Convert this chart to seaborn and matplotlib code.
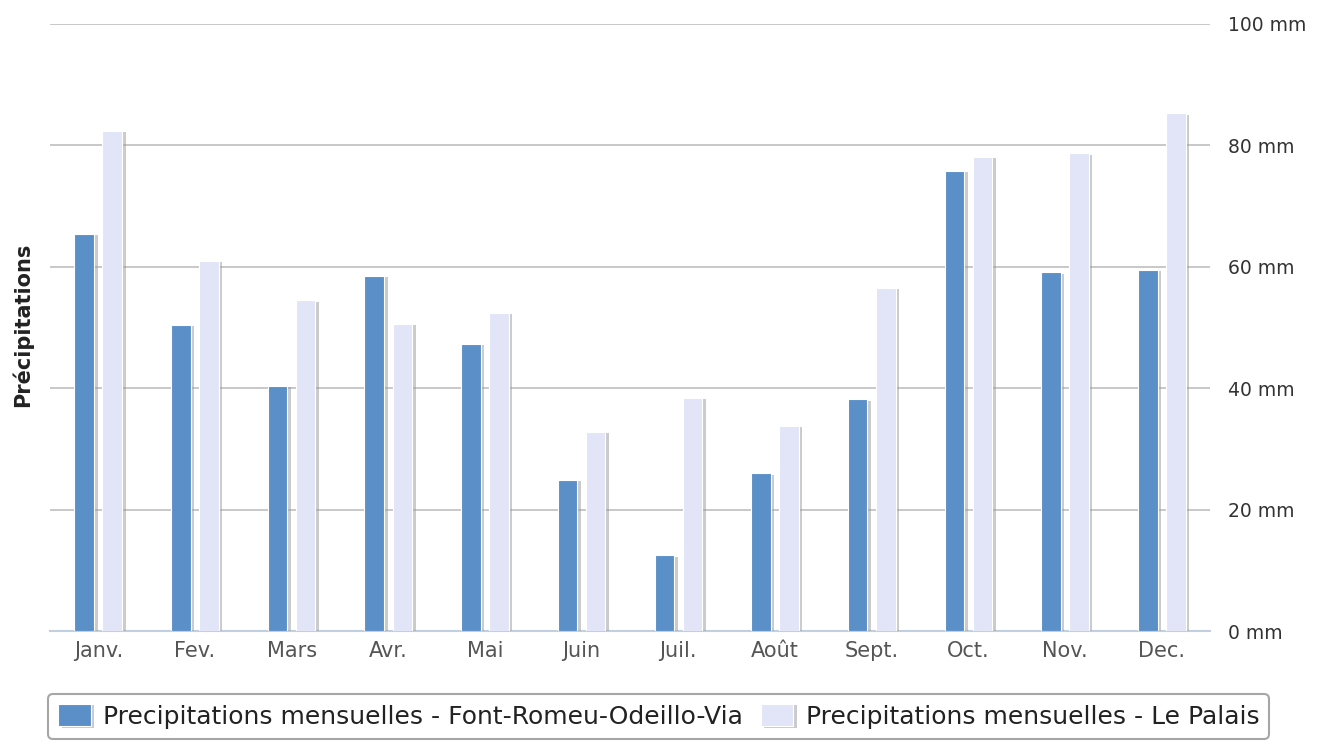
import pandas as pd
import matplotlib.pyplot as plt
import matplotlib.patheffects as pe
from matplotlib.ticker import FixedLocator
import seaborn as sns

mois = ['Janv.', 'Fev.', 'Mars', 'Avr.', 'Mai', 'Juin',
        'Juil.', 'Août', 'Sept.', 'Oct.', 'Nov.', 'Dec.']
font_romeu = [65.4, 50.4, 40.4, 58.5, 47.3, 24.9, 12.5, 26.0, 38.2, 75.8, 59.1, 59.5]
le_palais = [82.4, 61.0, 54.5, 50.6, 52.4, 32.8, 38.4, 33.8, 56.5, 78.1, 78.7, 85.3]
serie_1 = 'Precipitations mensuelles - Font-Romeu-Odeillo-Via'
serie_2 = 'Precipitations mensuelles - Le Palais'
yticks = [0, 20, 40, 60, 80, 100]

df = pd.DataFrame({
    'mois': mois * 2,
    'valeur': font_romeu + le_palais,
    'serie': [serie_1] * len(mois) + [serie_2] * len(mois),
})

sns.set_style("white")
plt.rcParams['font.family'] = ['DejaVu Sans']

fig = plt.figure(figsize=(13.39, 7.46), dpi=100)
ax = fig.add_axes([0.0373, 0.154, 0.8664, 0.814])

sns.barplot(data=df, x='mois', y='valeur', hue='serie', order=mois,
            palette=['#5b8fc7', '#e1e5f7'], width=0.58, gap=0.3,
            saturation=1, ax=ax, zorder=3)

for p in ax.patches:
    p.set_path_effects([pe.SimplePatchShadow(offset=(2.5, -1), shadow_rgbFace='#999999', alpha=0.5),
                        pe.Normal()])
    p.set_edgecolor('white')
    p.set_linewidth(0.8)

ax.set_ylim(0, 100)
ax.set_xlim(-0.5, len(mois) - 0.5)
ax.yaxis.tick_right()
ax.set_yticks(yticks)
ax.set_yticklabels([f'{v} mm' for v in yticks], fontsize=13.5, color='#333333')
ax.tick_params(axis='y', length=0, pad=13)
ax.grid(axis='y', color='#c4c4c4', linewidth=1.3, zorder=0)
ax.set_axisbelow(True)

ax.set_xlabel('')
ax.set_ylabel('')
ax.tick_params(axis='x', labelsize=15, labelcolor='#555555', length=0, pad=7)
ax.xaxis.set_minor_locator(FixedLocator([i + 0.5 for i in range(len(mois))]))
ax.tick_params(axis='x', which='minor', length=8, color='#c0d0e0', width=1.2)

for s in ['top', 'right', 'left']:
    ax.spines[s].set_visible(False)
ax.spines['bottom'].set_color('#c0d0e0')
ax.spines['bottom'].set_linewidth(1.5)

fig.text(0.017, 0.564, 'Précipitations', rotation=90, ha='center', va='center',
         fontsize=15, fontweight='bold', color='#222222')

ax.legend_.remove()
handles, labels = ax.get_legend_handles_labels()
leg = fig.legend(handles, labels, loc='center', bbox_to_anchor=(0.492, 0.040), ncol=2,
                 fontsize=18, frameon=True, fancybox=True, edgecolor='#909090',
                 handlelength=1.3, handleheight=1.0, columnspacing=0.7,
                 borderpad=0.4, handletextpad=0.5, borderaxespad=0)
leg.get_frame().set_linewidth(1.5)
for t in leg.get_texts():
    t.set_color('#222222')

plt.savefig('out.png', dpi=100)
